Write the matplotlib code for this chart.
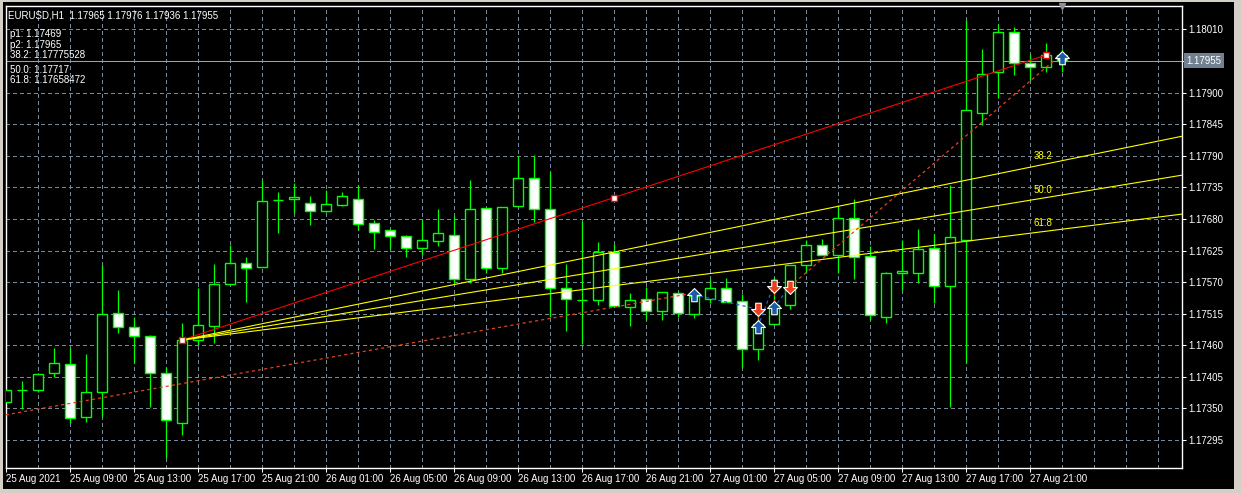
import numpy as np
import pandas as pd
import matplotlib
matplotlib.use("Agg")
import matplotlib.pyplot as plt
import matplotlib.transforms as mtransforms
from matplotlib.patches import Rectangle
from matplotlib.path import Path

plt.rcParams['font.family'] = ['Liberation Sans', 'DejaVu Sans']

# ---- data ----
symbol = "EURUSD,H1"
times = pd.date_range("2021-08-25 05:00", periods=67, freq="h")

opens = [1.17362, 1.17382, 1.17383, 1.17411, 1.17427, 1.17335, 1.17378, 1.17516, 1.17491, 1.17477,
         1.17411, 1.17324, 1.17470, 1.17494, 1.17566, 1.17604, 1.17597, 1.17713, 1.17714, 1.17707,
         1.17693, 1.17705, 1.17714, 1.17672, 1.17660, 1.17650, 1.17630, 1.17642, 1.17652, 1.17576,
         1.17699, 1.17594, 1.17702, 1.17751, 1.17697, 1.17559, 1.17538, 1.17538, 1.17622, 1.17527,
         1.17540, 1.17520, 1.17551, 1.17515, 1.17540, 1.17559, 1.17537, 1.17453, 1.17497, 1.17530,
         1.17599, 1.17634, 1.17618, 1.17681, 1.17615, 1.17510, 1.17585, 1.17586, 1.17629, 1.17564,
         1.17643, 1.17865, 1.17935, 1.18005, 1.17951, 1.17944, 1.17965]
highs = [1.17384, 1.17398, 1.17411, 1.17455, 1.17455, 1.17445, 1.17600, 1.17556, 1.17509, 1.17478,
         1.17423, 1.17498, 1.17559, 1.17602, 1.17635, 1.17613, 1.17748, 1.17727, 1.17743, 1.17720,
         1.17730, 1.17727, 1.17739, 1.17678, 1.17662, 1.17652, 1.17678, 1.17697, 1.17685, 1.17748,
         1.17699, 1.17701, 1.17790, 1.17791, 1.17762, 1.17602, 1.17677, 1.17640, 1.17636, 1.17551,
         1.17561, 1.17553, 1.17552, 1.17555, 1.17575, 1.17578, 1.17549, 1.17516, 1.17579, 1.17600,
         1.17643, 1.17645, 1.17704, 1.17714, 1.17632, 1.17588, 1.17643, 1.17662, 1.17654, 1.17739,
         1.18027, 1.17975, 1.18019, 1.18014, 1.17967, 1.17986, 1.17976]
lows = [1.17361, 1.17349, 1.17378, 1.17404, 1.17325, 1.17327, 1.17336, 1.17481, 1.17429, 1.17352,
        1.17263, 1.17303, 1.17461, 1.17464, 1.17565, 1.17536, 1.17596, 1.17656, 1.17691, 1.17669,
        1.17692, 1.17703, 1.17661, 1.17627, 1.17628, 1.17613, 1.17618, 1.17632, 1.17568, 1.17568,
        1.17586, 1.17585, 1.17702, 1.17675, 1.17510, 1.17485, 1.17462, 1.17530, 1.17527, 1.17494,
        1.17504, 1.17504, 1.17510, 1.17508, 1.17533, 1.17535, 1.17420, 1.17434, 1.17496, 1.17524,
        1.17586, 1.17618, 1.17586, 1.17575, 1.17504, 1.17498, 1.17556, 1.17569, 1.17534, 1.17352,
        1.17429, 1.17843, 1.17890, 1.17930, 1.17921, 1.17935, 1.17936]
closes = [1.17382, 1.17383, 1.17410, 1.17429, 1.17333, 1.17378, 1.17515, 1.17491, 1.17476, 1.17411,
          1.17330, 1.17469, 1.17495, 1.17566, 1.17603, 1.17595, 1.17712, 1.17713, 1.17718, 1.17693,
          1.17706, 1.17719, 1.17671, 1.17658, 1.17650, 1.17630, 1.17643, 1.17655, 1.17576, 1.17697,
          1.17594, 1.17700, 1.17751, 1.17697, 1.17559, 1.17541, 1.17538, 1.17622, 1.17528, 1.17538,
          1.17519, 1.17552, 1.17517, 1.17545, 1.17559, 1.17536, 1.17453, 1.17497, 1.17530, 1.17599,
          1.17634, 1.17618, 1.17681, 1.17614, 1.17512, 1.17585, 1.17589, 1.17627, 1.17564, 1.17648,
          1.17870, 1.17933, 1.18005, 1.17951, 1.17944, 1.17965, 1.17955]

bid = 1.17955
p1_bar, p1 = 11, 1.17469
p2_bar, p2 = 65, 1.17965
fan_levels = [38.2, 50.0, 61.8]

yticks = [1.18010, 1.17955, 1.17900, 1.17845, 1.17790, 1.17735, 1.17680,
          1.17625, 1.17570, 1.17515, 1.17460, 1.17405, 1.17350, 1.17295]

# trade arrows (bar, price)
buy_x = [43, 47, 48, 66]
buy_y = [1.17548, 1.17492, 1.17525, 1.17960]
sell_x = [47, 48, 49]
sell_y = [1.17523, 1.17564, 1.17562]
# dotted trade lines: (bar0, price0, bar1, price1)
red_trades = [(0, 1.17339, 43, 1.17551), (47, 1.17523, 47, 1.17492),
              (48, 1.17564, 48, 1.17525), (49, 1.17562, 66, 1.17967)]
blue_trades = [(43, 1.17548, 47, 1.17523), (47, 1.17492, 48, 1.17564),
               (48, 1.17525, 49, 1.17562)]

# ---- figure ----
W, H = 1241, 493
fig = plt.figure(figsize=(W / 100, H / 100), dpi=100, facecolor='black')
ax = fig.add_axes([5.7 / W, 1 - 468 / H, (1182 - 5.7) / W, (468 - 6) / H])
ax.set_facecolor('black')
ax.set_xlim(0.0, 73.52)
ax.set_ylim(1.172464, 1.180506)

grid_c = '#778899'
for yv in yticks:
    ax.axhline(yv, color=grid_c, lw=0.72, ls=(0, (4, 3)), zorder=1, antialiased=False)
for xv in range(2, 74, 2):
    ax.axvline(xv, color=grid_c, lw=0.72, ls=(0, (4, 3)), zorder=1, antialiased=False)

# candles
lime = '#00ff00'
x = np.arange(len(opens))
ax.vlines(x, lows, highs, color=lime, lw=0.9, zorder=3, snap=True)
for i in x:
    o, c = opens[i], closes[i]
    fc = 'white' if c < o else 'black'
    ax.add_patch(Rectangle((i - 0.31, min(o, c)), 0.62, abs(c - o), facecolor=fc,
                           edgecolor=lime, lw=1.0, zorder=4, snap=True))

# bid line
ax.axhline(bid, color='#a0a0a0', lw=0.75, zorder=2)

# fibonacci fan
ax.plot([p1_bar, p2_bar], [p1, p2], color='#ff0000', lw=0.8, zorder=5)
for lvl in fan_levels:
    lp = p2 - lvl / 100 * (p2 - p1)
    slope = (lp - p1) / (p2_bar - p1_bar)
    ax.plot([p1_bar, 80], [p1, p1 + slope * (80 - p1_bar)], color='#ffff00', lw=0.8, zorder=5)
    ax.annotate(f"{lvl:.1f}", (p2_bar - 0.15, lp), xytext=(0, 2), textcoords='offset points',
                color='#ffff00', fontsize=7, ha='center', va='bottom', zorder=6)
ax.plot([p1_bar, (p1_bar + p2_bar) / 2, p2_bar], [p1, (p1 + p2) / 2, p2], ls='none',
        marker='s', ms=4, mfc='white', mec='#ff0000', mew=1.0, zorder=7)

# trade lines and arrows
for b0, v0, b1, v1 in red_trades:
    ax.plot([b0, b1], [v0, v1], color='#e8401c', lw=0.9, ls=(0, (2.5, 2.5)), zorder=5)
for b0, v0, b1, v1 in blue_trades:
    ax.plot([b0, b1], [v0, v1], color='#1e64c8', lw=0.9, ls=(0, (2.5, 2.5)), zorder=5)

up = Path([(0, 1), (1, 0), (0.4, 0), (0.4, -0.9), (-0.4, -0.9), (-0.4, 0), (-1, 0), (0, 1)],
          [Path.MOVETO] + [Path.LINETO] * 6 + [Path.CLOSEPOLY])
down = Path([(vx, -vy) for vx, vy in up.vertices], up.codes)
ax.plot(buy_x, buy_y, ls='none', marker=up, ms=10, mfc='#1a5aa8', mec='white', mew=0.8, zorder=8)
ax.plot(sell_x, sell_y, ls='none', marker=down, ms=10, mfc='#e8401c', mec='white', mew=0.8, zorder=8)

# shift marker at top
ax.plot([len(opens) - 1], [1.0], transform=mtransforms.blended_transform_factory(ax.transData, ax.transAxes),
        marker='v', ms=5, color='#909090', clip_on=False, zorder=9)

# axes / ticks
for s in ax.spines.values():
    s.set_color('white')
    s.set_linewidth(1.0)
ax.yaxis.tick_right()
ax.set_yticks(yticks)
ax.set_yticklabels([f"{v:.5f}" for v in yticks])
xt = list(range(0, len(opens), 4))
ax.set_xticks(xt)
ax.set_xticklabels(["25 Aug 2021" if k == 0 else times[k].strftime("%d %b %H:%M") for k in xt],
                   ha='left')
ax.tick_params(axis='both', colors='white', labelsize=7, length=3, width=0.75, direction='out')
ax.tick_params(axis='y', pad=1.5)
ax.tick_params(axis='x', pad=1.5)

# bid price box
ax.annotate(f"{bid:.5f}", (1.0, bid), xycoords=('axes fraction', 'data'), xytext=(3, 0),
            textcoords='offset points', color='white', fontsize=7, ha='left', va='center',
            bbox=dict(boxstyle='square,pad=0.25', fc='#708090', ec='none'), zorder=10,
            annotation_clip=False)

# header texts
fig.text(8 / W, 1 - 15 / H, f"{symbol}  {opens[-1]:.5f} {highs[-1]:.5f} {lows[-1]:.5f} {closes[-1]:.5f}",
         color='white', fontsize=7, va='center', ha='left')
info = [f"p1: {p1:.5f}", f"p2: {p2:.5f}"]
for lvl in fan_levels:
    lp = p2 - lvl / 100 * (p2 - p1)
    info.append(f"{lvl:.1f}: " + f"{lp:.8f}".rstrip('0'))
for k, (t, yy) in enumerate(zip(info, [34, 45, 55, 70, 80])):
    fig.text(10 / W, 1 - yy / H, t, color='white', fontsize=7, va='center', ha='left')

# window border
bc = '#d4d0c8'
fig.patches.append(Rectangle((0, 0), 3 / W, 1, transform=fig.transFigure, fc=bc, ec='none'))
fig.patches.append(Rectangle((0, 1 - 2 / H), 1, 2 / H, transform=fig.transFigure, fc=bc, ec='none'))
fig.patches.append(Rectangle((1234 / W, 0), 7 / W, 1, transform=fig.transFigure, fc=bc, ec='none'))
fig.patches.append(Rectangle((0, 0), 1, 4 / H, transform=fig.transFigure, fc=bc, ec='none'))

fig.savefig("out.png", dpi=100, facecolor='black')
